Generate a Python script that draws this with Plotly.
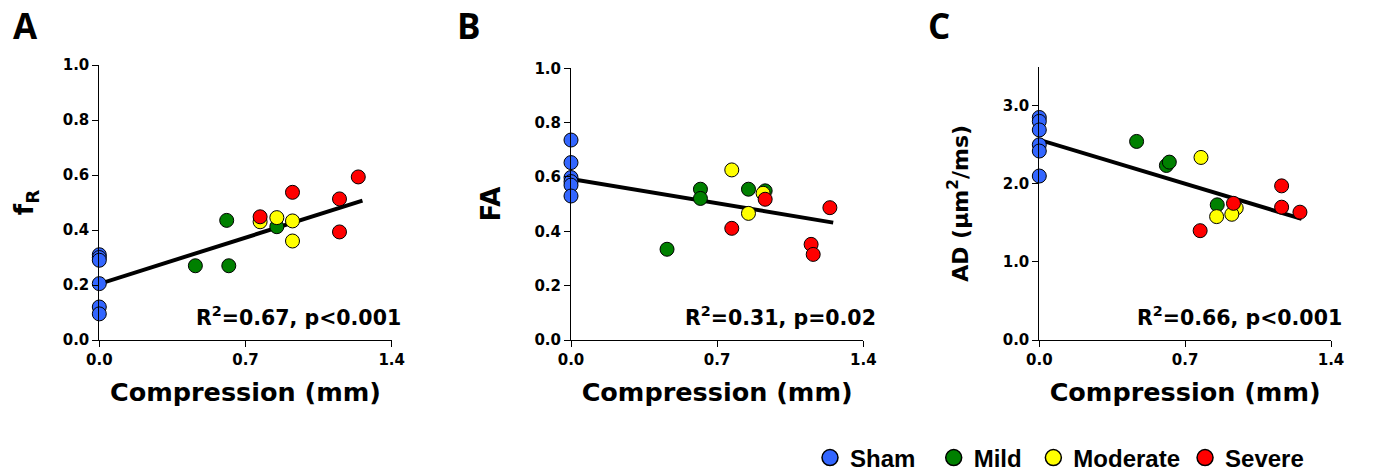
import plotly.graph_objects as go

# ---------------- data ----------------
groups = ["Sham", "Mild", "Moderate", "Severe"]
legend_labels = ["Sham\u00a0\u00a0", "Mild\u00a0", "Moderate", "Severe"]
colors = {"Sham": "#3366ff", "Mild": "#008000", "Moderate": "#ffff00", "Severe": "#ff0000"}

# Panel A : fR
a_sham_x = [0, 0, 0, 0, 0, 0]
a_sham_y = [0.31, 0.30, 0.29, 0.205, 0.12, 0.095]
a_mild_x = [0.46, 0.61, 0.62, 0.85]
a_mild_y = [0.27, 0.435, 0.27, 0.412]
a_mod_x = [0.77, 0.85, 0.925, 0.925]
a_mod_y = [0.43, 0.445, 0.433, 0.36]
a_sev_x = [0.77, 0.925, 1.15, 1.15, 1.24]
a_sev_y = [0.448, 0.537, 0.513, 0.393, 0.593]
a_fit_x = [0.0, 1.26]
a_fit_y = [0.204, 0.507]

# Panel B : FA
b_sham_x = [0, 0, 0, 0, 0, 0]
b_sham_y = [0.736, 0.653, 0.598, 0.583, 0.57, 0.530]
b_mild_x = [0.46, 0.62, 0.62, 0.85, 0.93]
b_mild_y = [0.334, 0.555, 0.521, 0.555, 0.549]
b_mod_x = [0.77, 0.85, 0.92]
b_mod_y = [0.626, 0.466, 0.540]
b_sev_x = [0.77, 0.93, 1.15, 1.16, 1.24]
b_sev_y = [0.411, 0.518, 0.352, 0.315, 0.487]
b_fit_x = [0.0, 1.256]
b_fit_y = [0.593, 0.432]

# Panel C : AD
c_sham_x = [0, 0, 0, 0, 0, 0]
c_sham_y = [2.85, 2.80, 2.69, 2.50, 2.42, 2.10]
c_mild_x = [0.467, 0.61, 0.624, 0.854]
c_mild_y = [2.543, 2.235, 2.278, 1.731]
c_mod_x = [0.776, 0.851, 0.945, 0.924]
c_mod_y = [2.338, 1.58, 1.69, 1.61]
c_sev_x = [0.772, 0.932, 1.163, 1.163, 1.251]
c_sev_y = [1.40, 1.75, 1.974, 1.701, 1.637]
c_fit_x = [0.0, 1.259]
c_fit_y = [2.564, 1.551]

x_ticks = [0.0, 0.7, 1.4]
x_tick_labels = ["0.0", "0.7", "1.4"]
ab_y_ticks = [0.0, 0.2, 0.4, 0.6, 0.8, 1.0]
c_y_ticks = [0.0, 1.0, 2.0, 3.0]

panel_letters = ["A", "B", "C"]
stats_text = ["R<sup>2</sup>=0.67, p<0.001", "R<sup>2</sup>=0.31, p=0.02", "R<sup>2</sup>=0.66, p<0.001"]
y_titles = ["f<sub>R</sub>", "FA", "AD (\u03bcm<sup>2</sup>/ms)"]
x_title = "Compression (mm)"

# ---------------- figure ----------------
W, H = 1373, 473


def px(x):
    return x / W


def py(y):
    return 1 - y / H


fig = go.Figure()

panels = [
    ("x", "y", a_fit_x, a_fit_y, [(a_sham_x, a_sham_y), (a_mild_x, a_mild_y), (a_mod_x, a_mod_y), (a_sev_x, a_sev_y)]),
    ("x2", "y2", b_fit_x, b_fit_y, [(b_sham_x, b_sham_y), (b_mild_x, b_mild_y), (b_mod_x, b_mod_y), (b_sev_x, b_sev_y)]),
    ("x3", "y3", c_fit_x, c_fit_y, [(c_sham_x, c_sham_y), (c_mild_x, c_mild_y), (c_mod_x, c_mod_y), (c_sev_x, c_sev_y)]),
]

for pi, (xa, ya, fx, fy, pts) in enumerate(panels):
    fig.add_trace(go.Scatter(x=fx, y=fy, mode="lines", xaxis=xa, yaxis=ya,
                             line=dict(color="black", width=4), showlegend=False,
                             cliponaxis=False, hoverinfo="skip"))
    for gi, (gx, gy) in enumerate(pts):
        g = groups[gi]
        fig.add_trace(go.Scatter(
            x=gx, y=gy, mode="markers", xaxis=xa, yaxis=ya, name=g,
            legendgroup=g, showlegend=False, cliponaxis=False,
            marker=dict(size=14, color=colors[g], line=dict(color="black", width=1))))

# legend entries (larger symbols, no data)
for g, lab in zip(groups, legend_labels):
    fig.add_trace(go.Scatter(x=[None], y=[None], mode="markers", name=lab, legendgroup=g,
                             marker=dict(size=20, color=colors[g], line=dict(color="black", width=1.5))))

tick_font = dict(family="DejaVu Sans", size=15, color="black", weight="bold")
title_font = dict(family="DejaVu Sans", size=25.5, color="black", weight="bold")

xdomains = [(px(99.3), px(391.7)), (px(571), px(863.3)), (px(1039.3), px(1331))]
ydomains = [(py(340), py(65)), (py(340), py(68.3)), (py(340), py(66.7))]
yranges = [[0, 1.0], [0, 1.0], [0, 3.5]]
yticks = [ab_y_ticks, ab_y_ticks, c_y_ticks]
ytitle_sizes = [26, 26, 22]
ytitle_standoff = [21, 26, 28]

axis_common = dict(showline=True, linecolor="black", linewidth=1, ticks="outside",
                   ticklen=6, tickcolor="black", tickwidth=1, showgrid=False,
                   zeroline=False, tickfont=tick_font, fixedrange=True, automargin=False)

layout_axes = {}
for i in range(3):
    sx = "" if i == 0 else str(i + 1)
    layout_axes["xaxis" + sx] = dict(
        axis_common, domain=list(xdomains[i]), range=[0, 1.4], tickvals=x_ticks,
        ticktext=x_tick_labels, anchor="y" + sx,
        title=dict(text=x_title, font=title_font, standoff=15))
    layout_axes["yaxis" + sx] = dict(
        axis_common, domain=list(ydomains[i]), range=yranges[i], tickvals=yticks[i],
        tickformat=".1f", anchor="x" + sx,
        title=dict(text=y_titles[i], font=dict(title_font, size=ytitle_sizes[i]),
                   standoff=ytitle_standoff[i]))

fig.update_layout(**layout_axes)

# panel letters
letter_pos = [(25.5, 26), (469, 26), (939, 26)]
for (lx, ly), t in zip(letter_pos, panel_letters):
    fig.add_annotation(text=t, xref="paper", yref="paper", x=px(lx), y=py(ly),
                       xanchor="center", yanchor="middle", showarrow=False,
                       font=dict(family="Open Sans", size=35, color="black", weight="bold"))

# stats text
stats_right = [403, 878.3, 1344]
for xr, t in zip(stats_right, stats_text):
    fig.add_annotation(text=t, xref="paper", yref="paper", x=px(xr), y=py(316),
                       xanchor="right", yanchor="middle", showarrow=False,
                       font=dict(family="DejaVu Sans", size=20.5, color="black", weight="bold"))

fig.update_layout(
    template="none",
    width=W, height=H, margin=dict(l=0, r=0, t=0, b=0, pad=0, autoexpand=False),
    paper_bgcolor="white", plot_bgcolor="white",
    legend=dict(orientation="h", x=px(810), y=py(458), xanchor="left", yanchor="middle",
                font=dict(family="Liberation Sans", size=24, color="black", weight="bold"),
                itemsizing="trace", bgcolor="rgba(0,0,0,0)", borderwidth=0),
)

# remove the default page margin so the 1373x473 figure fills the window exactly
fig.write_html("out.html", config={"displayModeBar": False},
               post_script="document.body.style.margin='0';document.body.style.overflow='hidden';")
